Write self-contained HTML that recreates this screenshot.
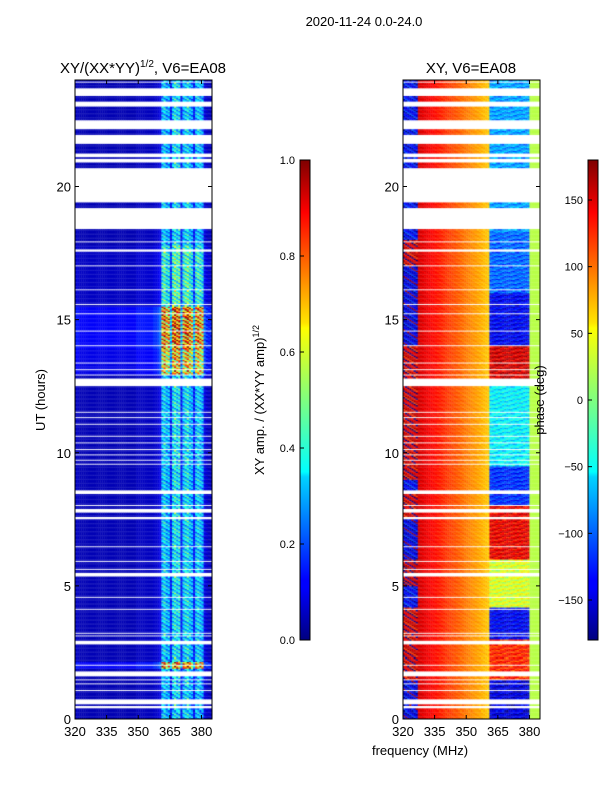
<!DOCTYPE html>
<html><head><meta charset="utf-8"><style>
body{margin:0;background:#fff;width:600px;height:800px;overflow:hidden;font-family:"Liberation Sans",sans-serif}
#wrap{position:relative;width:600px;height:800px}
canvas{position:absolute}
svg{position:absolute;left:0;top:0}
</style></head><body>
<div id="wrap">
<canvas id="c1" width="137" height="639" style="left:75px;top:80px"></canvas>
<canvas id="c2" width="137" height="639" style="left:403px;top:80px"></canvas>
<svg id="s" width="600" height="800">
<defs>
<linearGradient id="jet" x1="0" y1="1" x2="0" y2="0">
<stop offset="0" stop-color="#00007f"/><stop offset="0.11" stop-color="#0000ff"/><stop offset="0.125" stop-color="#0000ff"/><stop offset="0.34" stop-color="#00d4ff"/><stop offset="0.35" stop-color="#0ff"/><stop offset="0.5" stop-color="#7fff7f"/><stop offset="0.65" stop-color="#ff0"/><stop offset="0.66" stop-color="#ffe600"/><stop offset="0.89" stop-color="#f00"/><stop offset="1" stop-color="#7f0000"/>
</linearGradient></defs>
<text x="364" y="26" font-size="13" text-anchor="middle">2020-11-24 0.0-24.0</text>
<text x="143" y="73" font-size="15" text-anchor="middle">XY/(XX*YY)<tspan font-size="10" dy="-6">1/2</tspan><tspan dy="6">, V6=EA08</tspan></text>
<text x="471" y="73" font-size="15" text-anchor="middle">XY, V6=EA08</text>
<text transform="translate(45,400) rotate(-90)" font-size="13" text-anchor="middle">UT (hours)</text>
<text x="420" y="755" font-size="13" text-anchor="middle">frequency (MHz)</text>
<text transform="translate(264,400) rotate(-90)" font-size="13" text-anchor="middle">XY amp. / (XX*YY amp)<tspan font-size="9" dy="-5">1/2</tspan></text>
<text transform="translate(544,400) rotate(-90)" font-size="13" text-anchor="middle">phase (deg)</text>
<rect x="300" y="160" width="10" height="480" fill="url(#jet)" stroke="#000"/>
<rect x="588" y="160" width="10" height="480" fill="url(#jet)" stroke="#000"/>
<g id="ax" font-size="13"></g>
</svg>
</div>
<script>
// ---- data ----
const freqs = []; for (let f = 320; f < 385; f++) freqs.push(f); // 1 MHz channels
const ampCol = [0.06,0.06,0.05,0.05,0.05,0.05,0.05,0.05,0.05,0.05,0.05,0.05,0.05,0.05,0.05,0.05,0.05,0.05,0.05,0.05,0.05,0.05,0.05,0.05,0.05,0.05,0.05,0.05,0.05,0.06,0.06,0.06,0.06,0.06,0.06,0.06,0.06,0.07,0.07,0.08,0.1,0.3,0.34,0.28,0.3,0.13,0.33,0.38,0.32,0.36,0.13,0.3,0.34,0.37,0.3,0.28,0.13,0.3,0.33,0.3,0.27,0.09,0.07,0.06,0.06];
const ampRowSeg = [[0,1.9,1.0],[1.9,2.15,2.4],[2.15,12.9,1.05],[12.9,13.9,2.0],[13.9,15.5,2.4],[15.5,17.8,1.3],[17.8,24,1.0]];
const ampRowMod = [1.0,0.7,1.3,0.9,0.6,1.2,1.1,0.8,1.4,0.9,0.7,1.2];
const flagSeg = [[0.4,0.5],[0.56,0.75],[1.05,1.1],[1.3,1.35],[1.45,1.5],[1.6,1.8],[2.0,2.05],[2.8,2.97],[3.1,3.15],[3.2,3.25],[4.1,4.15],[4.55,4.6],[5.33,5.48],[5.6,5.65],[5.9,5.95],[6.45,6.5],[7.5,7.6],[7.74,7.9],[8.0,8.07],[8.45,8.6],[9.55,9.6],[9.7,9.75],[9.9,9.95],[10.1,10.15],[10.35,10.4],[10.6,10.65],[11.05,11.1],[11.3,11.35],[11.5,11.55],[12.5,12.8],[12.9,12.95],[13.1,13.15],[13.35,13.4],[14.0,14.05],[14.55,14.6],[15.2,15.25],[15.55,15.6],[16.1,16.15],[17.0,17.05],[17.55,17.65],[17.9,17.95],[18.4,19.2],[19.4,20.7],[20.9,21.05],[21.1,21.25],[21.6,21.95],[22.15,22.5],[23.0,23.2],[23.4,23.7],[23.9,23.95]];
const phaseRightSeg = [[0,1.5,-150],[1.5,3,120],[3,4.2,-140],[4.2,6,30],[6,8,140],[8,9.5,-120],[9.5,12.5,-50],[12.5,14,150],[14,16,-140],[16,18.3,-100],[18.3,24,-80]];
const phaseLeftSeg = [[0,1.5,-150],[1.5,4.2,150],[4.2,5,-140],[5,6,160],[6,7.5,-150],[7.5,8.5,150],[8.5,9,-140],[9,14,150],[14,17,-150],[17,18,150],[18,24,-140]];
const phaseColOffset = [0,30,-40,20,0,-30,40,10,0,-20,30,0,-40,20,0,10,-30,40,0,-10];
const ampTicks = [0,0.2,0.4,0.6,0.8,1.0];
const phaseTicks = [-150,-100,-50,0,50,100,150];
const xTicks = [320,335,350,365,380];
const yTicks = [0,5,10,15,20];
// ---- scales ----
const X0=320,X1=385,T0=0,T1=24,W=137,H=639;
const xs = f => (f-X0)/(X1-X0)*W;
const ys = t => H-(t-T0)/(T1-T0)*H;
function jet(v){v=Math.max(0,Math.min(1,v));
 const r=Math.min(4*v-1.5,-4*v+4.5),g=Math.min(4*v-0.5,-4*v+3.5),b=Math.min(4*v+0.5,-4*v+2.5);
 const c=x=>Math.round(255*Math.max(0,Math.min(1,x)));return `rgb(${c(r)},${c(g)},${c(b)})`;}
const segVal=(segs,t)=>{for(const s of segs) if(t>=s[0]&&t<s[1]) return s[2]; return 1;};
const flagged=t=>flagSeg.some(s=>t>=s[0]&&t<s[1]);
const dt=0.05;
const c1=document.getElementById('c1').getContext('2d');
const c2=document.getElementById('c2').getContext('2d');
for(let t=0;t<24;t+=dt){
 const tm=t+dt/2; if(flagged(tm)) continue;
 const y0=ys(t+dt),hh=ys(t)-ys(t+dt);
 const af=segVal(ampRowSeg,tm), pr=segVal(phaseRightSeg,tm), pl=segVal(phaseLeftSeg,tm);
 const ri=Math.floor(t/dt);
 freqs.forEach((f,i)=>{
  const x0=xs(f),w=xs(f+1)-xs(f)+0.3;
  const m = f>360 ? ampRowMod[(ri+i)%12] : 1;
  c1.fillStyle=jet(Math.min(1,ampCol[i]*af*m)); c1.fillRect(x0,y0,w,hh+0.3);
  let p;
  if(f<327) p=pl+phaseColOffset[(i+ri)%20];
  else if(f<361) p=150-(f-327)*2.6+phaseColOffset[(i+ri)%20]*0.2;
  else if(f<380) p=pr+phaseColOffset[(i*3+ri)%20]*0.7;
  else p=20;
  p=((p+180)%360+360)%360-180;
  c2.fillStyle=jet((p+180)/360); c2.fillRect(x0,y0,w,hh+0.3);
 });
}
// ---- axes ----
const ax=document.getElementById('ax');const NS='http://www.w3.org/2000/svg';
function el(tag,attrs,txt){const e=document.createElementNS(NS,tag);for(const k in attrs)e.setAttribute(k,attrs[k]);if(txt!==undefined)e.textContent=txt;ax.appendChild(e);return e;}
[75,403].forEach((L,pi)=>{
 const fr=el('rect',{x:L,y:80,width:W,height:H,fill:'none',stroke:'#000'});
 
 
 xTicks.forEach(v=>{const x=L+xs(v);
  el('line',{x1:x,y1:80+H,x2:x,y2:80+H-4,stroke:'#000'});el('line',{x1:x,y1:80,x2:x,y2:84,stroke:'#000'});
  const tx=el('text',{x:x,y:736,'text-anchor':'middle'},String(v));
  
  });
 yTicks.forEach(v=>{const y=80+ys(v);
  el('line',{x1:L,y1:y,x2:L+4,y2:y,stroke:'#000'});el('line',{x1:L+W,y1:y,x2:L+W-4,y2:y,stroke:'#000'});
  const tx=el('text',{x:L-4,y:y+5,'text-anchor':'end'},String(v));
  
  });
});
ampTicks.forEach(v=>{const y=640-v*480;
 el('line',{x1:300,y1:y,x2:304,y2:y,stroke:'#000'});
 const tx=el('text',{x:295,y:y+4,'text-anchor':'end','font-size':'11'},v.toFixed(1));
 
 });
phaseTicks.forEach(v=>{const y=640-(v+180)/360*480;
 el('line',{x1:588,y1:y,x2:592,y2:y,stroke:'#000'});
 const tx=el('text',{x:583,y:y+4,'text-anchor':'end','font-size':'11'},String(v).replace('-','\u2212'));
 
 });
</script>
</body></html>
